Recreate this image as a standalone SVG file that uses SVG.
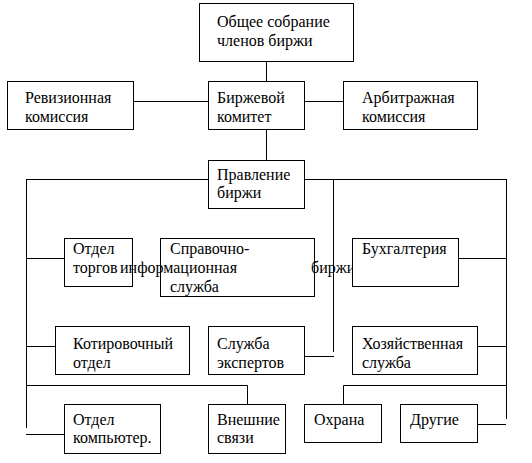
<svg xmlns="http://www.w3.org/2000/svg" width="532" height="463" viewBox="0 0 532 463" font-family="'Liberation Serif', 'DejaVu Serif', serif" font-size="16">
<style>
rect{fill:#fff;stroke:#000;stroke-width:1}
text{font-family:'Liberation Serif','DejaVu Serif',serif;font-size:16px;fill:#000}
.c{stroke:#000;stroke-width:1;fill:none}
</style>
<rect x="0" y="0" width="532" height="463" style="stroke:none"/>
<g id="connectors">
<path class="c" d="M266.5 61V81M266.5 129V161M133 101.5H208M304 101.5H344M26 179.5H208M304 179.5H506.5M26.5 179V428M506.5 179V419M333.5 179V352M26 258.5H64M459 258.5H506M26 346.5H55M478 346.5H506M304 356.5H334M26 385.5H247.5V404M343.5 404V385.5H506M26 434.5H64M478 424.5H506"/>
</g>
<g id="n1"><rect x="199.5" y="3.5" width="154" height="58"/><text x="217" y="27">Общее собрание</text><text x="217" y="46">членов биржи</text></g>
<g id="n2"><rect x="7.5" y="81.5" width="126" height="48"/><text x="25" y="103">Ревизионная</text><text x="25" y="122">комиссия</text></g>
<g id="n3"><rect x="208.5" y="81.5" width="96" height="48"/><text x="217" y="103">Биржевой</text><text x="217" y="122">комитет</text></g>
<g id="n4"><rect x="343.5" y="81.5" width="134" height="48"/><text x="362" y="103">Арбитражная</text><text x="362" y="122">комиссия</text></g>
<g id="n5"><rect x="208.5" y="160.5" width="96" height="48"/><text x="217" y="180">Правление</text><text x="217" y="198">биржи</text></g>
<g id="n6"><rect x="64.5" y="238.5" width="68" height="48"/><text x="73" y="254">Отдел</text><text x="73" y="273">торгов</text></g>
<g id="n7"><rect x="160.5" y="238.5" width="154" height="58"/><text x="170" y="254">Справочно-</text><text x="120" y="273">информационная</text><text x="311" y="273">биржи</text><text x="170" y="292">служба</text></g>
<g id="n8"><rect x="352.5" y="238.5" width="106" height="48"/><text x="362" y="254">Бухгалтерия</text></g>
<g id="n9"><rect x="55.5" y="326.5" width="134" height="48"/><text x="73" y="349">Котировочный</text><text x="73" y="368">отдел</text></g>
<g id="n10"><rect x="208.5" y="326.5" width="96" height="48"/><text x="217" y="349">Служба</text><text x="217" y="368">экспертов</text></g>
<g id="n11"><rect x="352.5" y="326.5" width="125" height="48"/><text x="362" y="349">Хозяйственная</text><text x="362" y="368">служба</text></g>
<g id="n12"><rect x="64.5" y="404.5" width="96" height="49"/><text x="73" y="425">Отдел</text><text x="73" y="443">компьютер.</text></g>
<g id="n13"><rect x="208.5" y="404.5" width="77" height="49"/><text x="217" y="425">Внешние</text><text x="217" y="443">связи</text></g>
<g id="n14"><rect x="304.5" y="404.5" width="77" height="38"/><text x="314" y="425">Охрана</text></g>
<g id="n15"><rect x="400.5" y="404.5" width="77" height="38"/><text x="410" y="425">Другие</text></g>
</svg>
